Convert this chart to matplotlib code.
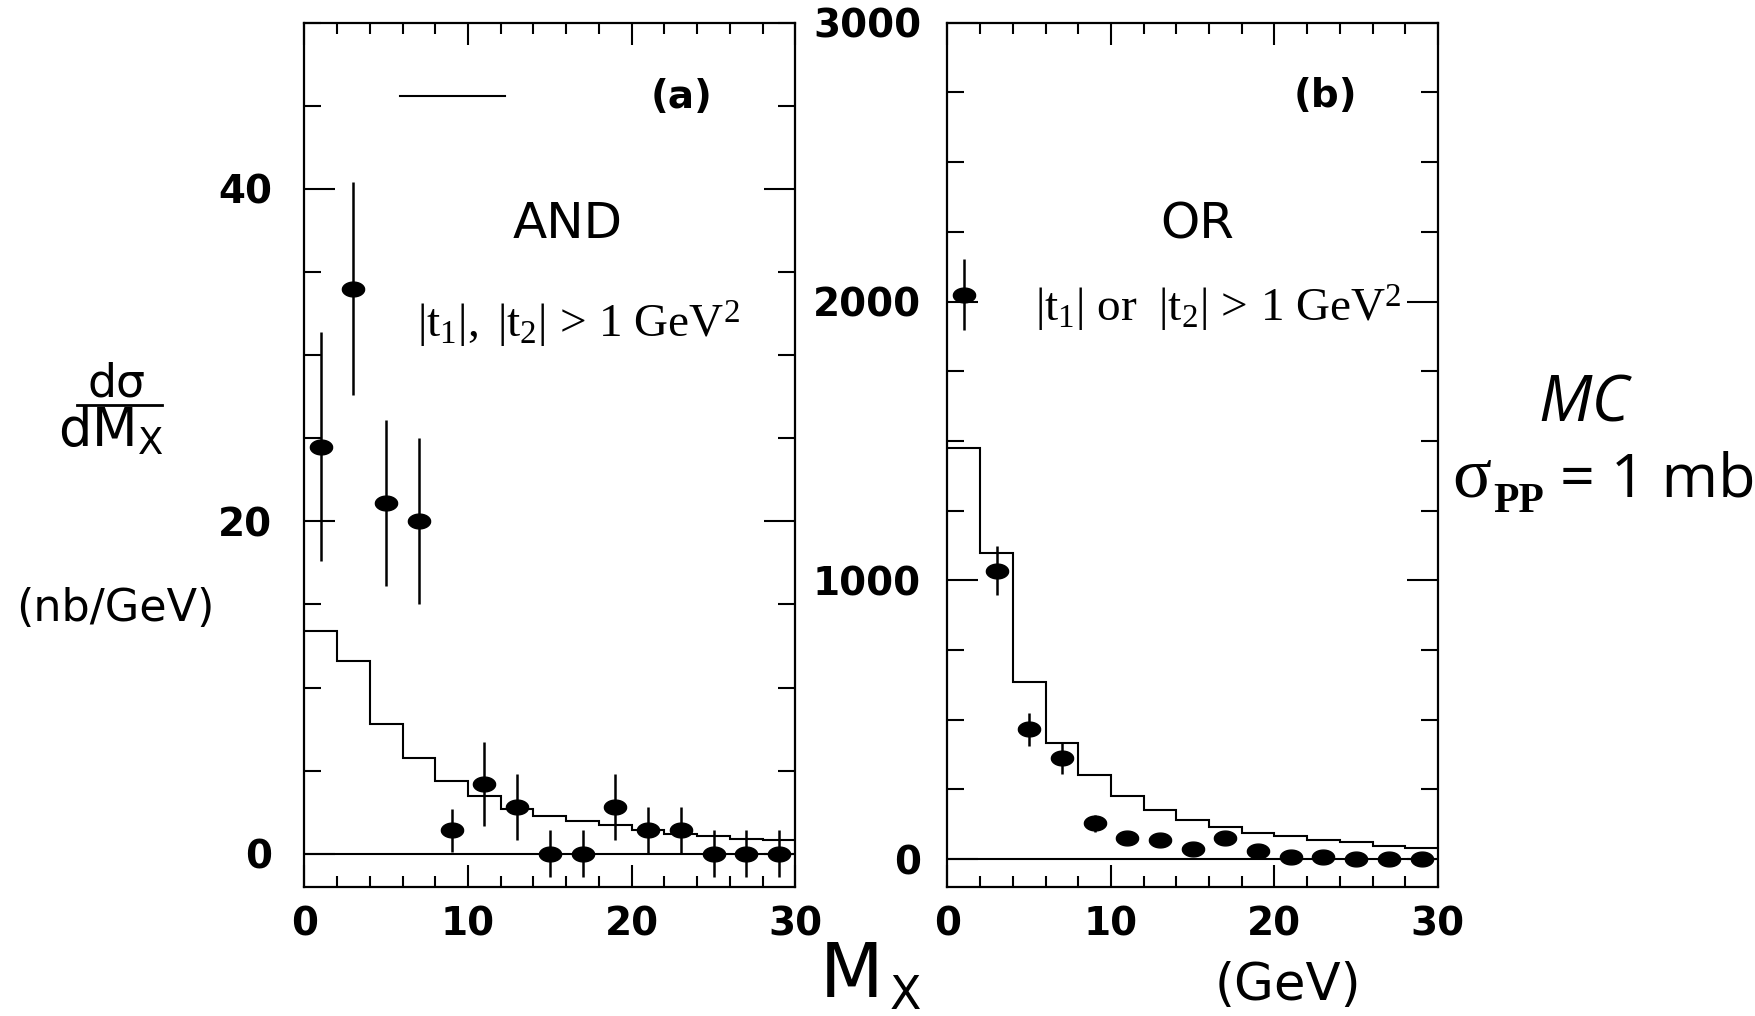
import numpy as np
import matplotlib.pyplot as plt
from matplotlib.lines import Line2D
from matplotlib.path import Path
from matplotlib.ticker import MultipleLocator

plt.rcParams['font.family'] = 'DejaVu Sans'
plt.rcParams['mathtext.fontset'] = 'custom'
plt.rcParams['mathtext.rm'] = 'Liberation Serif'
plt.rcParams['mathtext.it'] = 'Liberation Serif:italic'
plt.rcParams['mathtext.bf'] = 'Liberation Serif:bold'
plt.rcParams['mathtext.sf'] = 'DejaVu Sans'

# M_X bins (GeV), 2 GeV wide
bin_edges = [0, 2, 4, 6, 8, 10, 12, 14, 16, 18, 20, 22, 24, 26, 28, 30]
mx_centers = [1, 3, 5, 7, 9, 11, 13, 15, 17, 19, 21, 23, 25, 27, 29]

# (a) AND : |t1|, |t2| > 1 GeV^2   (nb/GeV)
and_data = [24.5, 34.0, 21.1, 20.0, 1.4, 4.2, 2.8, 0.0, 0.0, 2.8, 1.4, 1.4, 0.0, 0.0, 0.0]
and_err = [6.9, 6.4, 5.0, 5.0, 1.3, 2.5, 2.0, 1.4, 1.4, 2.0, 1.4, 1.4, 1.4, 1.4, 1.4]
and_mc = [13.4, 11.6, 7.8, 5.75, 4.35, 3.45, 2.7, 2.3, 1.95, 1.75, 1.4, 1.2, 1.05, 0.9, 0.8]

# (b) OR : |t1| or |t2| > 1 GeV^2
or_data = [2025, 1035, 465, 362, 128, 74, 68, 35, 76, 30, 6, 8, 0, 1, 1]
or_err = [126, 88, 60, 55, 30, 15, 15, 15, 15, 15, 15, 15, 15, 15, 15]
or_mc = [1473, 1099, 634, 416, 300, 226, 175, 142, 116, 95, 82, 70, 62, 48, 40]

mx_ticks = [0, 10, 20, 30]
and_yticks = [0, 20, 40]
or_yticks = [0, 1000, 2000, 3000]

W, H = 1756, 1016
fig = plt.figure(figsize=(W / 100, H / 100), dpi=100)


def fx(px):
    return px / W


def fy(py):
    return 1 - py / H


ax_a = fig.add_axes([fx(304.3), fy(887), fx(795.4) - fx(304.3), fy(22.7) - fy(887)])
ax_b = fig.add_axes([fx(947.5), fy(887), fx(1437.9) - fx(947.5), fy(22.7) - fy(887)])

# slightly flattened dot, like the scanned figure
t = np.linspace(0, 2 * np.pi, 40)
blob = Path(np.column_stack([1.5 * np.cos(t), np.sin(t)]))


def draw_panel(ax, data, err, mc, ylim, yticks, yminor, ypad):
    ax.stairs(mc, bin_edges, baseline=None, color='k', lw=1.5)
    ax.axhline(0, color='k', lw=1.5)
    ax.errorbar(mx_centers, data, yerr=err, fmt='none', ecolor='k', elinewidth=1.8)
    ax.plot(mx_centers, data, ls='none', marker=blob, ms=16, color='k')
    ax.set_xlim(0, 30)
    ax.set_ylim(*ylim)
    ax.set_xticks(mx_ticks)
    ax.set_xticklabels([str(v) for v in mx_ticks], fontsize=28, fontweight='bold')
    ax.set_yticks(yticks)
    ax.set_yticklabels([str(v) for v in yticks], fontsize=28, fontweight='bold')
    ax.xaxis.set_minor_locator(MultipleLocator(2))
    ax.yaxis.set_minor_locator(MultipleLocator(yminor))
    ax.tick_params(which='both', direction='in', top=True, right=True, width=1.5)
    ax.tick_params(axis='x', which='major', length=16, pad=13)
    ax.tick_params(axis='x', which='minor', length=8)
    ax.tick_params(axis='y', which='major', length=22, pad=ypad)
    ax.tick_params(axis='y', which='minor', length=12)
    for s in ax.spines.values():
        s.set_linewidth(1.6)


draw_panel(ax_a, and_data, and_err, and_mc, (-2, 50), and_yticks, 5, 23)
draw_panel(ax_b, or_data, or_err, or_mc, (-100, 3000), or_yticks, 250, 19)

# panel annotations
ax_a.text(0.769, 0.914, '(a)', transform=ax_a.transAxes, ha='center', va='center',
          fontsize=28, fontweight='bold')
ax_b.text(0.770, 0.915, '(b)', transform=ax_b.transAxes, ha='center', va='center',
          fontsize=28, fontweight='bold')
ax_a.text(0.536, 0.7505, 'AND', transform=ax_a.transAxes, ha='center', va='baseline',
          fontsize=36)
ax_b.text(0.510, 0.7505, 'OR', transform=ax_b.transAxes, ha='center', va='baseline',
          fontsize=36)
ax_a.text(0.558, 0.635, r'$|\mathrm{t}_1|,\ |\mathrm{t}_2|\,>\,1\ \mathrm{GeV}^2$',
          transform=ax_a.transAxes, ha='center', va='baseline', fontsize=34)
ax_b.text(0.552, 0.654, r'$|\mathrm{t}_1|\ \mathrm{or}\ \ |\mathrm{t}_2|\,>\,1\ \mathrm{GeV}^2$',
          transform=ax_b.transAxes, ha='center', va='baseline', fontsize=34)
# leftover legend line
ax_a.plot([0.194, 0.408], [0.915, 0.915], transform=ax_a.transAxes, color='k', lw=1.5)

# y axis label
fig.text(fx(116.7), fy(396.7), 'd\u03c3', ha='center', va='baseline', fontsize=33)
fig.add_artist(Line2D([fx(76.7), fx(162.3)], [fy(405), fy(405)], color='k', lw=2))
fig.text(fx(58), fy(446.7), r'$\mathsf{dM_X}$', ha='left', va='baseline', fontsize=38)
fig.text(fx(115), fy(608.5), '(nb/GeV)', ha='center', va='center', fontsize=32)

# x axis label
fig.text(fx(820), fy(996.7), 'M', ha='left', va='baseline', fontsize=53)
fig.text(fx(890), fy(1009), 'X', ha='left', va='baseline', fontsize=33)
fig.text(fx(1288), fy(986), '(GeV)', ha='center', va='center', fontsize=37)

# MC note
fig.text(fx(1584), fy(421.7), 'MC', ha='center', va='baseline', fontsize=46,
         family='Open Sans', style='italic')
fig.text(fx(1452), fy(496.7), '\u03c3', ha='left', va='baseline', fontsize=52,
         family='Liberation Serif')
fig.text(fx(1493), fy(511.7), 'PP', ha='left', va='baseline', fontsize=30,
         family='Liberation Serif', fontweight='bold')
fig.text(fx(1560), fy(496.7), '= 1 mb', ha='left', va='baseline', fontsize=44,
         family='Open Sans')

fig.savefig('out.png', dpi=100)
